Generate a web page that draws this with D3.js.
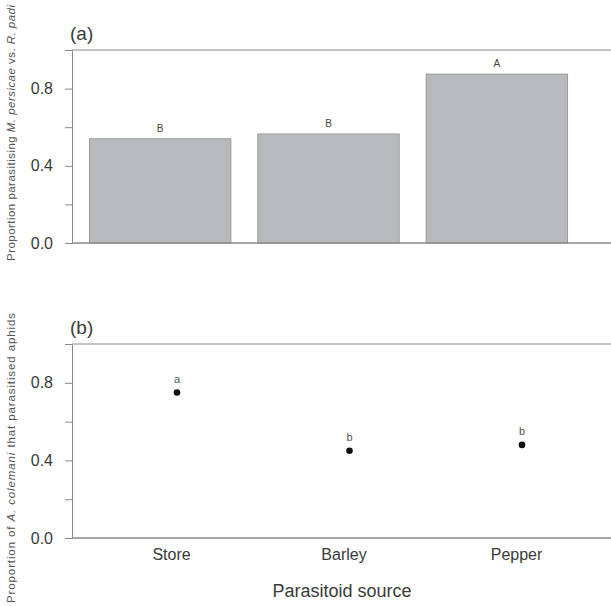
<!DOCTYPE html>
<html>
<head>
<meta charset="utf-8">
<script src="https://cdn.jsdelivr.net/npm/d3@7/dist/d3.min.js"></script>
<style>
  body { margin: 0; background: #fff; }
  svg { font-family: "Liberation Sans", Arial, sans-serif; }
</style>
</head>
<body>
<svg id="chart" width="611" height="606"></svg>
<script>
// data
var sources = ["Store", "Barley", "Pepper"];
var propPersicae = [0.54, 0.565, 0.875];   // panel (a)
var lettersA = ["B", "B", "A"];
var propColemani = [0.75, 0.45, 0.48];     // panel (b)
var lettersB = ["a", "b", "b"];
var yTicks = [0, 0.2, 0.4, 0.6, 0.8, 1.0];
var yLabelled = [0, 0.4, 0.8];

var svg = d3.select("#chart");
var axisCol = "#8a8a8a";
var textCol = "#3a3a3a";
var left = 72, right = 611;

function yAxis(g, y) {
  g.call(d3.axisLeft(y).tickValues(yTicks).tickSize(7).tickPadding(12)
    .tickFormat(function(d) { return yLabelled.indexOf(+d.toFixed(1)) >= 0 ? d3.format(".1f")(d) : ""; }));
  g.select(".domain").attr("stroke", axisCol);
  g.selectAll(".tick line").attr("stroke", axisCol);
  g.selectAll(".tick text").attr("fill", textCol).style("font-size", "16px");
}

function frame(y) {
  // top and bottom rules run out to the edge
  svg.append("line").attr("x1", left).attr("x2", right)
    .attr("y1", y(1)).attr("y2", y(1)).attr("stroke", axisCol);
  svg.append("line").attr("x1", left).attr("x2", right)
    .attr("y1", y(0)).attr("y2", y(0)).attr("stroke", axisCol).attr("stroke-width", 1.5);
}

/*---------- panel (a) ----------*/
var xa = d3.scaleBand().domain(sources).range([76, 581])
  .paddingInner(0.16).paddingOuter(0.08);
var ya = d3.scaleLinear().domain([0, 1]).range([243, 50]);

svg.selectAll(".bar").data(sources).enter().append("rect")
  .attr("class", "bar")
  .attr("x", function(d) { return xa(d); })
  .attr("width", xa.bandwidth())
  .attr("y", function(d, i) { return ya(propPersicae[i]); })
  .attr("height", function(d, i) { return ya(0) - ya(propPersicae[i]); })
  .attr("fill", "#b8b9bc").attr("stroke", "#9a9a9c");

svg.selectAll(".letA").data(sources).enter().append("text")
  .attr("x", function(d) { return xa(d) + xa.bandwidth() / 2; })
  .attr("y", function(d, i) { return ya(propPersicae[i]) - 7; })
  .attr("text-anchor", "middle").attr("fill", "#444")
  .style("font-size", "10px")
  .text(function(d, i) { return lettersA[i]; });

frame(ya);
svg.append("g").attr("transform", "translate(" + left + ",0)").call(yAxis, ya);

svg.append("text").attr("x", 70).attr("y", 40)
  .attr("fill", textCol).style("font-size", "19px").text("(a)");

var ta = svg.append("text")
  .attr("transform", "translate(15,133) rotate(-90)")
  .attr("text-anchor", "middle").attr("fill", "#555")
  .attr("textLength", 256).attr("lengthAdjust", "spacing")
  .style("font-size", "11.5px");
ta.append("tspan").text("Proportion parasitising ");
ta.append("tspan").style("font-style", "italic").text("M. persicae");
ta.append("tspan").text(" vs. ");
ta.append("tspan").style("font-style", "italic").text("R. padi");

/*---------- panel (b) ----------*/
var xb = d3.scalePoint().domain(sources).range([177, 522]);
var yb = d3.scaleLinear().domain([0, 1]).range([538, 344]);

frame(yb);
svg.append("g").attr("transform", "translate(" + left + ",0)").call(yAxis, yb);

svg.selectAll(".dot").data(sources).enter().append("circle")
  .attr("cx", function(d) { return xb(d); })
  .attr("cy", function(d, i) { return yb(propColemani[i]); })
  .attr("r", 3.3).attr("fill", "#111");

svg.selectAll(".letB").data(sources).enter().append("text")
  .attr("x", function(d) { return xb(d); })
  .attr("y", function(d, i) { return yb(propColemani[i]) - 10; })
  .attr("text-anchor", "middle").attr("fill", "#555")
  .style("font-size", "11px")
  .text(function(d, i) { return lettersB[i]; });

var xAxisB = svg.append("g").attr("transform", "translate(0," + yb(0) + ")")
  .call(d3.axisBottom(xb).tickSize(0).tickPadding(11));
xAxisB.select(".domain").remove();
xAxisB.selectAll(".tick text").attr("fill", textCol).attr("dx", -6)
  .style("font-size", "16px");

svg.append("text").attr("x", 70).attr("y", 334)
  .attr("fill", textCol).style("font-size", "19px").text("(b)");

var tb = svg.append("text")
  .attr("transform", "translate(15,458) rotate(-90)")
  .attr("text-anchor", "middle").attr("fill", "#555")
  .attr("textLength", 290).attr("lengthAdjust", "spacing")
  .style("font-size", "11.5px");
tb.append("tspan").text("Proportion of ");
tb.append("tspan").style("font-style", "italic").text("A. colemani");
tb.append("tspan").text(" that parasitised aphids");

svg.append("text").attr("x", 342).attr("y", 597)
  .attr("text-anchor", "middle").attr("fill", textCol)
  .style("font-size", "18px").text("Parasitoid source");
</script>
</body>
</html>
